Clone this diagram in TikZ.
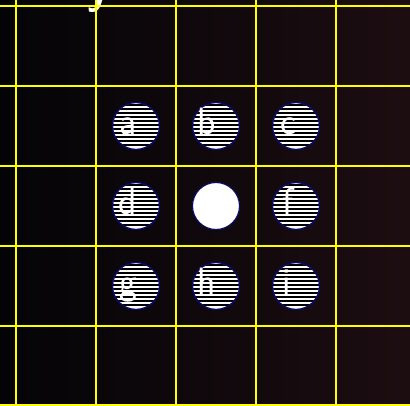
\documentclass[tikz,border=0pt]{standalone}
\usepackage{fontspec}
\definecolor{bgleft}{HTML}{040407}
\definecolor{bgmid}{HTML}{0B090D}
\definecolor{bgright}{HTML}{1C0D11}
\definecolor{gridyellow}{HTML}{FFFF00}
\definecolor{rimnavy}{HTML}{0A0A70}
\tikzset{
  gridline/.style={gridyellow, line width=2.5pt},
  disc/.style={circle, minimum size=47pt, inner sep=0pt, fill=white, draw=rimnavy, line width=1.1pt},
  hatchline/.style={black, line width=1.4pt},
  letter/.style={text=white, font=\sffamily\fontsize{38}{40}\selectfont, anchor=base, inner sep=0pt},
}
\begin{document}
\begin{tikzpicture}[x=1pt,y=-1pt]
\useasboundingbox (0,0) rectangle (410,406);
\clip (0,0) rectangle (410,406);
\shade[left color=bgleft, middle color=bgmid, right color=bgright] (0,0) rectangle (410,406);
% partial label at top
\node[letter, font=\sffamily\bfseries\fontsize{44}{46}\selectfont] (ylab) at (98,4) {y};
% grid
\foreach \x in {16,96,176,256,336}
  \draw[gridline] (\x,0) -- (\x,410);
\foreach \y in {6,86,166,246,326,405}
  \draw[gridline] (0,\y) -- (410,\y);
% discs
\foreach \n/\cx/\cy in {a/136/126, b/216/126, c/296/126, d/136/206, e/216/206, f/296/206, g/136/286, h/216/286, i/296/286}
  \node[disc] (\n) at (\cx,\cy) {};
% hatching
\foreach \l/\cx/\cy in {a/136/126, b/216/126, c/296/126, d/136/206, f/296/206, g/136/286, h/216/286, i/296/286}{
  \begin{scope}
    \clip (\cx,\cy) circle (23pt);
    \foreach \k in {-21,-17,...,21}
      \draw[hatchline] (\cx-25,\cy+\k) -- (\cx+25,\cy+\k);
  \end{scope}
  \draw[rimnavy, line width=1.1pt] (\cx,\cy) circle (23.5pt);
}
\node[letter] (la) at (128,135) {a};
\node[letter] (lb) at (207,135) {b};
\node[letter] (lc) at (288,135) {c};
\node[letter] (ld) at (128,215) {d};
\node[letter] (lf) at (288,215) {f};
\node[letter] (lg) at (128,295) {g};
\node[letter] (lh) at (207,295) {h};
\node[letter] (li) at (287,295) {i};
\end{tikzpicture}
\end{document}
